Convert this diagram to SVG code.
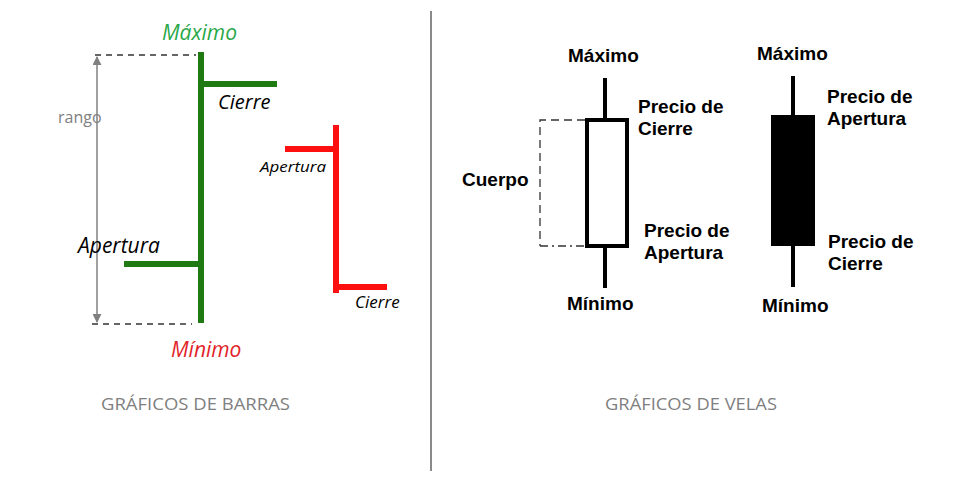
<svg xmlns="http://www.w3.org/2000/svg" width="966" height="487" viewBox="0 0 966 487">
<defs>
<style>
.it{font-family:"Open Sans","Liberation Sans",sans-serif;font-style:italic}
.bd{font-family:"Liberation Sans",Arial,sans-serif;font-weight:bold;font-size:19px;fill:#000}
.ttl{font-family:"Open Sans","Liberation Sans",sans-serif;font-size:17px;fill:#7f7f7f}
.gbar{stroke:#1f7a12;stroke-width:6;fill:none}
.rbar{stroke:#ff1010;stroke-width:6;fill:none}
.dash{stroke:#333;stroke-width:1.3;stroke-dasharray:6,5;fill:none}
.wick{stroke:#000;stroke-width:4;fill:none}
</style>
<marker id="ah" viewBox="0 0 10 10" refX="9" refY="5" markerWidth="9" markerHeight="9" orient="auto-start-reverse" markerUnits="userSpaceOnUse">
<path d="M0,0 L10,5 L0,10 z" fill="#808080"/>
</marker>
</defs>
<rect width="966" height="487" fill="#fff"/>
<line x1="431" y1="11" x2="431" y2="471" stroke="#8a8a8a" stroke-width="2"/>
<g id="connectors">
<line class="dash" x1="95" y1="55" x2="196" y2="55"/>
<line class="dash" x1="92" y1="324" x2="192" y2="324"/>
<line x1="97" y1="57" x2="97" y2="322" stroke="#808080" stroke-width="1.5" marker-start="url(#ah)" marker-end="url(#ah)"/>
<path d="M585,120 H540 V246" stroke="#333" stroke-width="1.3" fill="none" stroke-dasharray="8,5"/>
<path d="M540,246 H585" stroke="#333" stroke-width="1.3" fill="none" stroke-dasharray="8,4,2,4"/>
</g>
<g id="green-bar">
<line class="gbar" x1="201" y1="52" x2="201" y2="323"/>
<line class="gbar" x1="201" y1="84" x2="277" y2="84"/>
<line class="gbar" x1="124" y1="264" x2="201" y2="264"/>
<text class="it" x="162" y="40" font-size="21" fill="#2aa84a">Máximo</text>
<text class="it" x="218" y="109" font-size="20" fill="#000">Cierre</text>
<text class="it" x="78" y="253" font-size="21" fill="#000">Apertura</text>
<text class="it" x="171" y="357" font-size="21" fill="#e21f2a">Mínimo</text>
<text x="58" y="123" font-family="'Open Sans','Liberation Sans',sans-serif" font-size="16" fill="#808080">rango</text>
</g>
<g id="red-bar">
<line class="rbar" x1="336" y1="125" x2="336" y2="293"/>
<line class="rbar" x1="285" y1="149" x2="336" y2="149"/>
<line class="rbar" x1="336" y1="287" x2="387" y2="287"/>
<text class="it" x="260" y="172" font-size="15" fill="#000" textLength="66" lengthAdjust="spacingAndGlyphs">Apertura</text>
<text class="it" x="355" y="308" font-size="17" fill="#000">Cierre</text>
</g>
<g id="candle-white">
<line class="wick" x1="605" y1="78" x2="605" y2="120"/>
<line class="wick" x1="605" y1="246" x2="605" y2="288"/>
<rect x="587" y="120" width="40" height="126" fill="#fff" stroke="#000" stroke-width="4"/>
<text class="bd" x="568" y="62">Máximo</text>
<text class="bd" x="638" y="113">Precio de</text>
<text class="bd" x="638" y="135">Cierre</text>
<text class="bd" x="462" y="186">Cuerpo</text>
<text class="bd" x="644" y="237">Precio de</text>
<text class="bd" x="644" y="259">Apertura</text>
<text class="bd" x="567" y="310">Mínimo</text>
</g>
<g id="candle-black">
<line class="wick" x1="793" y1="76" x2="793" y2="116"/>
<line class="wick" x1="793" y1="245" x2="793" y2="287"/>
<rect x="771" y="115" width="44" height="131" fill="#000"/>
<text class="bd" x="757" y="60">Máximo</text>
<text class="bd" x="827" y="103">Precio de</text>
<text class="bd" x="827" y="125">Apertura</text>
<text class="bd" x="828" y="248">Precio de</text>
<text class="bd" x="828" y="270">Cierre</text>
<text class="bd" x="762" y="312">Mínimo</text>
</g>
<g id="titles">
<text class="ttl" x="101" y="410" textLength="189" lengthAdjust="spacingAndGlyphs">GRÁFICOS DE BARRAS</text>
<text class="ttl" x="605" y="410" textLength="172" lengthAdjust="spacingAndGlyphs">GRÁFICOS DE VELAS</text>
</g>
</svg>
